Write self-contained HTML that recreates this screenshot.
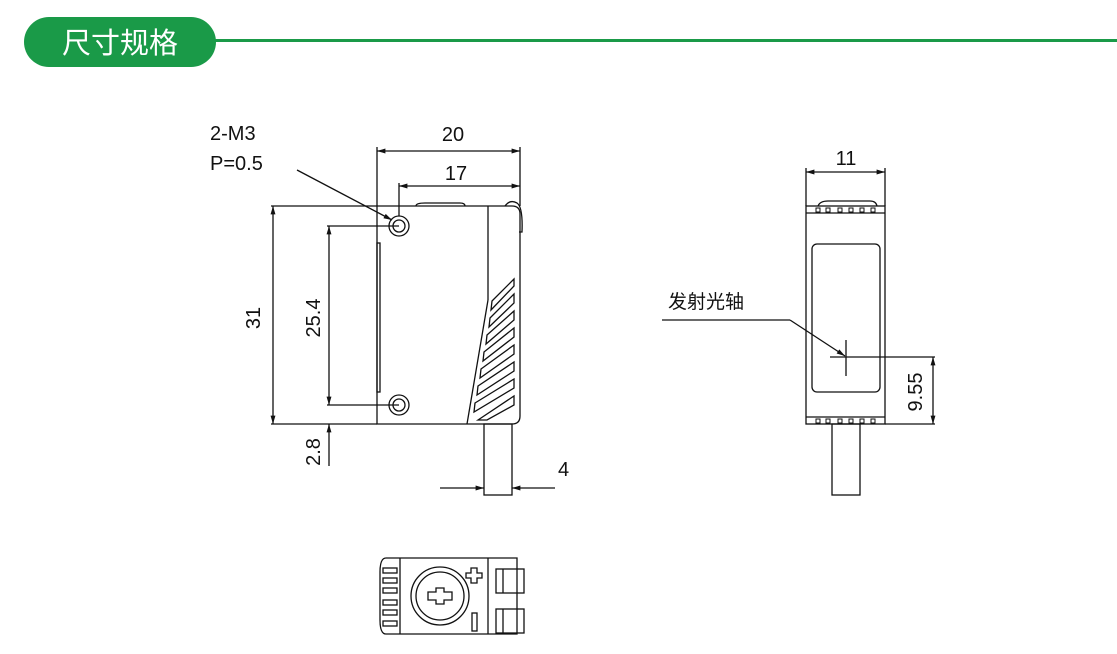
<!DOCTYPE html>
<html><head><meta charset="utf-8"><style>
body{margin:0;background:#fff;width:1117px;height:654px;overflow:hidden}
svg{display:block}
text{font-family:"Liberation Sans","Noto Sans CJK SC",sans-serif;fill:#111}
</style></head><body>
<svg width="1117" height="654" viewBox="0 0 1117 654" xmlns="http://www.w3.org/2000/svg">
<defs><marker id="a" viewBox="0 0 12 10" refX="12" refY="5" markerWidth="13" markerHeight="7" orient="auto-start-reverse" markerUnits="userSpaceOnUse"><path d="M0,1.5 L12,5 L0,8.5z" fill="#111"/></marker></defs>
<rect x="214" y="39" width="903" height="3" fill="#1a9a48"/>
<rect x="24" y="17" width="192" height="50" rx="25" fill="#1a9a48"/>
<text x="120" y="53" font-size="29" text-anchor="middle" style="fill:#fff">尺寸规格</text>
<g stroke="#111" stroke-width="1.3" fill="none">
<path d="M377,206 H512 Q520,206 520,214 V416 Q520,424 512,424 H377 Z"/>
<line x1="488" y1="206" x2="488" y2="300"/>
<line x1="488" y1="300" x2="467" y2="424"/>
<path d="M416,206 Q416,203 425,203 H460 Q465,203 465,206"/>
<path d="M505,206 Q510,199 517,203 Q523,207 522,232 H519"/>
<rect x="377" y="243" width="3" height="149"/>
<circle cx="399" cy="226" r="10"/><circle cx="399" cy="226" r="6"/>
<circle cx="399" cy="405" r="10"/><circle cx="399" cy="405" r="6"/>
<path d="M492,301 L514,279 V286 L491,310Z M490,318 L514,294 V303 L489,327Z M487,335 L514,311 V320 L486,344Z M484,352 L514,328 V337 L483,361Z M481,369 L514,345 V354 L480,378Z M478,386 L514,362 V371 L477,395Z M475,403 L514,379 V388 L474,412Z M478,420 L514,396 V405 L487,420Z"/>
<rect x="484" y="424" width="28" height="71"/>
<line x1="440" y1="488" x2="484" y2="488" marker-end="url(#a)"/>
<line x1="555" y1="488" x2="512" y2="488" marker-end="url(#a)"/>
<line x1="271" y1="206" x2="377" y2="206"/>
<line x1="271" y1="424" x2="377" y2="424"/>
<line x1="273" y1="206" x2="273" y2="424" marker-start="url(#a)" marker-end="url(#a)"/>
<line x1="327" y1="226" x2="399" y2="226"/>
<line x1="327" y1="405" x2="399" y2="405"/>
<line x1="329" y1="226" x2="329" y2="405" marker-start="url(#a)" marker-end="url(#a)"/>
<line x1="329" y1="466" x2="329" y2="424" marker-end="url(#a)"/>
<line x1="377" y1="147" x2="377" y2="206"/>
<line x1="520" y1="147" x2="520" y2="206"/>
<line x1="399" y1="183" x2="399" y2="216"/>
<line x1="377" y1="151" x2="520" y2="151" marker-start="url(#a)" marker-end="url(#a)"/>
<line x1="399" y1="186" x2="520" y2="186" marker-start="url(#a)" marker-end="url(#a)"/>
<line x1="297" y1="170" x2="392" y2="220" marker-end="url(#a)"/>
<rect x="806" y="206" width="79" height="218"/>
<line x1="806" y1="213" x2="885" y2="213"/>
<line x1="806" y1="417" x2="885" y2="417"/>
<path d="M818,206 Q820,201 828,201 H870 Q876,201 877,206"/>
<g stroke-width="1">
<rect x="816" y="208" width="4" height="4"/><rect x="826" y="208" width="4" height="4"/><rect x="838" y="208" width="4" height="4"/><rect x="849" y="208" width="4" height="4"/><rect x="860" y="208" width="4" height="4"/><rect x="871" y="208" width="4" height="4"/>
<rect x="816" y="419" width="4" height="4"/><rect x="826" y="419" width="4" height="4"/><rect x="838" y="419" width="4" height="4"/><rect x="849" y="419" width="4" height="4"/><rect x="860" y="419" width="4" height="4"/><rect x="871" y="419" width="4" height="4"/>
</g>
<rect x="812" y="244" width="68" height="148" rx="5"/>
<line x1="846" y1="340" x2="846" y2="376"/>
<line x1="830" y1="357" x2="935" y2="357"/>
<line x1="885" y1="424" x2="935" y2="424"/>
<line x1="933" y1="357" x2="933" y2="424" marker-start="url(#a)" marker-end="url(#a)"/>
<polyline points="662,320 790,320"/>
<line x1="790" y1="320" x2="845" y2="356" marker-end="url(#a)"/>
<line x1="806" y1="168" x2="806" y2="206"/>
<line x1="885" y1="168" x2="885" y2="206"/>
<line x1="806" y1="172" x2="885" y2="172" marker-start="url(#a)" marker-end="url(#a)"/>
<rect x="832" y="424" width="28" height="71"/>
<path d="M386,558 H517 V634 H386 Q380,634 380,620 V572 Q380,558 386,558Z"/>
<line x1="400" y1="558" x2="400" y2="634"/>
<line x1="488" y1="558" x2="488" y2="634"/>
<rect x="383" y="568" width="14" height="5"/><rect x="383" y="578" width="14" height="5"/><rect x="383" y="588" width="14" height="5"/><rect x="383" y="600" width="14" height="5"/><rect x="383" y="610" width="14" height="5"/><rect x="383" y="621" width="14" height="5"/>
<circle cx="440" cy="596" r="29"/><circle cx="440" cy="596" r="24"/>
<path d="M436,588 h8 v4 h8 v8 h-8 v4 h-8 v-4 h-8 v-8 h8z"/>
<path d="M471,568 h6 v5 h5 v5 h-5 v5 h-6 v-5 h-5 v-5 h5z"/>
<rect x="472" y="613" width="5" height="18"/>
<rect x="496" y="569" width="28" height="24"/><line x1="503" y1="569" x2="503" y2="593"/>
<rect x="496" y="609" width="28" height="24"/><line x1="503" y1="609" x2="503" y2="633"/>
</g>
<g font-size="20">
<text x="453" y="141" text-anchor="middle">20</text>
<text x="456" y="180" text-anchor="middle">17</text>
<text x="210" y="140">2-M3</text>
<text x="210" y="170">P=0.5</text>
<text x="558" y="476">4</text>
<text x="846" y="165" text-anchor="middle">11</text>
<text x="668" y="308" font-size="19">发射光轴</text>
<text transform="translate(260,318) rotate(-90)" text-anchor="middle">31</text>
<text transform="translate(320,318) rotate(-90)" text-anchor="middle">25.4</text>
<text transform="translate(320,452) rotate(-90)" text-anchor="middle">2.8</text>
<text transform="translate(922,392) rotate(-90)" text-anchor="middle">9.55</text>
</g>
</svg>
</body></html>
